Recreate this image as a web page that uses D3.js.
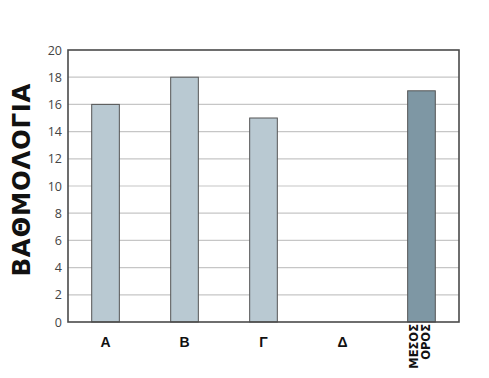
<!DOCTYPE html>
<html>
<head>
<meta charset="utf-8">
<script src="https://cdn.jsdelivr.net/npm/d3@7"></script>
<style>
  html, body { margin: 0; padding: 0; background: #fff; }
  svg { display: block; }
</style>
</head>
<body>
<div id="chart"></div>
<script>
/* ── Data ─────────────────────────────────── */
const categories = ['Α', 'Β', 'Γ', 'Δ', 'ΜΕΣΟΣ ΟΡΟΣ'];
const scores     = [16, 18, 15, 0, 17];
const yTicks     = [0, 2, 4, 6, 8, 10, 12, 14, 16, 18, 20];
const yTitle     = 'ΒΑΘΜΟΛΟΓΙΑ';

/* ── Layout ───────────────────────────────── */
const W = 489, H = 378;
const plot = { left: 68, right: 459, top: 50, bottom: 322 };

const x = d3.scaleBand()
  .domain(categories)
  .range([plot.left, plot.right])
  .paddingInner(0.65)
  .paddingOuter(0.3);

const y = d3.scaleLinear()
  .domain([0, 20])
  .range([plot.bottom, plot.top]);

const svg = d3.select('#chart')
  .append('svg')
  .attr('width', W)
  .attr('height', H);

svg.append('rect').attr('width', W).attr('height', H).attr('fill', '#fff');

// gridlines
svg.append('g')
  .selectAll('line')
  .data(yTicks.filter(t => t > 0 && t < 20))
  .join('line')
  .attr('x1', plot.left).attr('x2', plot.right)
  .attr('y1', d => y(d)).attr('y2', d => y(d))
  .attr('stroke', '#c6c6c6')
  .attr('stroke-width', 1.2);

// bars
svg.append('g')
  .selectAll('rect')
  .data(categories.map((c, i) => ({ c, v: scores[i], last: i === categories.length - 1 })))
  .join('rect')
  .filter(d => d.v > 0)
  .attr('x', d => x(d.c))
  .attr('y', d => y(d.v))
  .attr('width', x.bandwidth())
  .attr('height', d => y(0) - y(d.v))
  .attr('fill', d => d.last ? '#7e97a4' : '#b9c9d2')
  .attr('stroke', '#555')
  .attr('stroke-width', 1);

// frame
svg.append('rect')
  .attr('x', plot.left).attr('y', plot.top)
  .attr('width', plot.right - plot.left)
  .attr('height', plot.bottom - plot.top)
  .attr('fill', 'none')
  .attr('stroke', '#4a4a4a')
  .attr('stroke-width', 1.6);

// y axis labels
const yAxis = d3.axisLeft(y).tickValues(yTicks).tickSize(0).tickPadding(6);
svg.append('g')
  .attr('transform', `translate(${plot.left},0)`)
  .call(yAxis)
  .call(g => g.select('.domain').remove())
  .selectAll('text')
  .attr('font-family', '"Open Sans", sans-serif')
  .attr('font-size', 12.5)
  .attr('fill', '#444');

// x labels
const xl = svg.append('g');
categories.forEach((c, i) => {
  const cx = x(c) + x.bandwidth() / 2;
  if (i < categories.length - 1) {
    xl.append('text')
      .attr('x', cx).attr('y', 347)
      .attr('text-anchor', 'middle')
      .attr('font-family', '"Liberation Sans", Arial, sans-serif')
      .attr('font-weight', 'bold')
      .attr('font-size', 14)
      .attr('fill', '#111')
      .text(c);
  } else {
    const lines = c.split(' ');
    lines.forEach((ln, j) => {
      xl.append('text')
        .attr('transform', `translate(${cx - 3.5 + j * 12},324) rotate(-90)`)
        .attr('text-anchor', 'end')
        .attr('font-family', '"DejaVu Sans", sans-serif')
        .attr('font-weight', 'bold')
        .attr('font-size', 11.5)
        .attr('fill', '#111')
        .text(ln);
    });
  }
});

// y title
svg.append('text')
  .attr('transform', `translate(30,180) rotate(-90)`)
  .attr('text-anchor', 'middle')
  .attr('font-family', '"DejaVu Sans", sans-serif')
  .attr('font-weight', 'bold')
  .attr('font-size', 24.5)
  .attr('textLength', 193)
  .attr('lengthAdjust', 'spacing')
  .attr('fill', '#111')
  .text(yTitle);
</script>
</body>
</html>
